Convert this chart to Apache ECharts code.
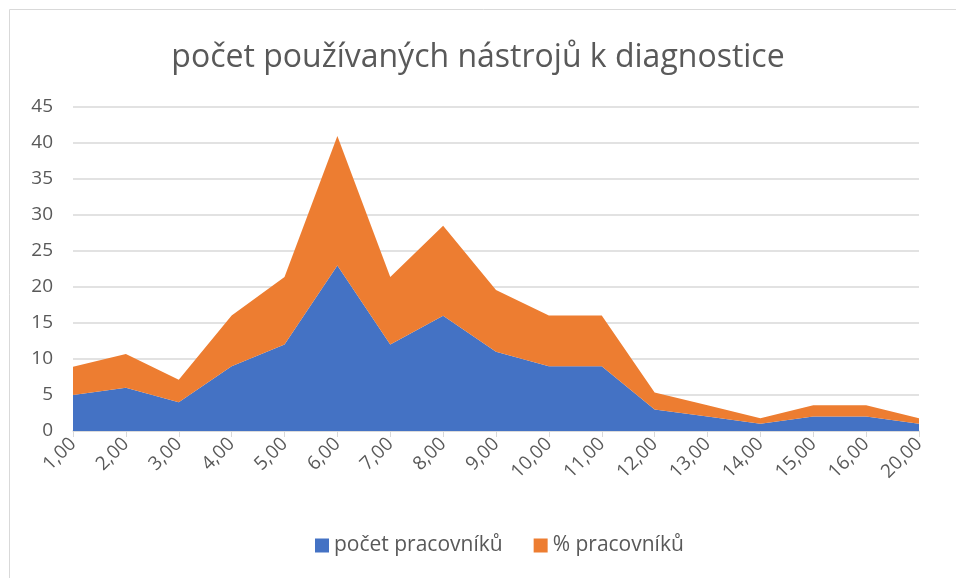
<!DOCTYPE html>
<html>
<head>
<meta charset="utf-8">
<script src="https://cdn.jsdelivr.net/npm/echarts@6/dist/echarts.min.js"></script>
<style>
  html, body { margin: 0; padding: 0; background: #fff; }
  #chart { width: 956px; height: 578px; }
</style>
</head>
<body>
<div id="chart"></div>
<script>
    // kategorie (počet nástrojů)
    var categories = ['1,00', '2,00', '3,00', '4,00', '5,00', '6,00', '7,00', '8,00', '9,00',
        '10,00', '11,00', '12,00', '13,00', '14,00', '15,00', '16,00', '20,00'];
    var pocetPracovniku = [5, 6, 4, 9, 12, 23, 12, 16, 11, 9, 9, 3, 2, 1, 2, 2, 1];
    var procentoPracovniku = [3.91, 4.69, 3.13, 7.03, 9.38, 17.97, 9.38, 12.5, 8.59, 7.03, 7.03,
        2.34, 1.56, 0.78, 1.56, 1.56, 0.78];
    var yTicks = [0, 5, 10, 15, 20, 25, 30, 35, 40, 45];

    var myChart = echarts.init(document.getElementById('chart'));
    var textColor = '#595959';
    var option = {
        animation: false,
        textStyle: { fontFamily: 'Open Sans' },
        title: {
            text: 'počet používaných nástrojů k diagnostice',
            left: 'center',
            top: 37,
            textStyle: { fontSize: 32, fontWeight: 'normal', color: textColor, fontFamily: 'Open Sans' }
        },
        graphic: [{
            type: 'rect',
            shape: { x: 9.5, y: 9.5, width: 980, height: 620 },
            style: { fill: 'none', stroke: '#d9d9d9', lineWidth: 1 },
            silent: true
        }],
        legend: {
            bottom: 17,
            left: 310,
            itemWidth: 14,
            itemHeight: 14,
            itemGap: 31,
            icon: 'rect',
            textStyle: { fontSize: 21, color: textColor },
            data: ['počet pracovníků', '% pracovníků']
        },
        grid: { left: 73, right: 37, top: 107, bottom: 147 },
        xAxis: {
            type: 'category',
            boundaryGap: false,
            data: categories,
            axisLine: { lineStyle: { color: '#d9d9d9', width: 1.5 } },
            axisTick: { show: true, length: 6, lineStyle: { color: '#d9d9d9' } },
            axisLabel: { rotate: 45, fontSize: 19, color: textColor, margin: 10, interval: 0 }
        },
        yAxis: {
            type: 'value',
            min: yTicks[0],
            max: yTicks[yTicks.length - 1],
            interval: 5,
            axisLine: { show: false },
            axisTick: { show: false },
            axisLabel: { fontSize: 19, color: textColor, margin: 20 },
            splitLine: { lineStyle: { color: '#d9d9d9', width: 1.5 } }
        },
        series: [
            {
                name: 'počet pracovníků',
                type: 'line',
                stack: 'celkem',
                data: pocetPracovniku,
                symbol: 'none',
                lineStyle: { width: 0 },
                itemStyle: { color: '#4472c4' },
                areaStyle: { color: '#4472c4', opacity: 1 }
            },
            {
                name: '% pracovníků',
                type: 'line',
                stack: 'celkem',
                data: procentoPracovniku,
                symbol: 'none',
                lineStyle: { width: 0 },
                itemStyle: { color: '#ed7d31' },
                areaStyle: { color: '#ed7d31', opacity: 1 }
            }
        ]
    };
    myChart.setOption(option);
</script>
</body>
</html>
